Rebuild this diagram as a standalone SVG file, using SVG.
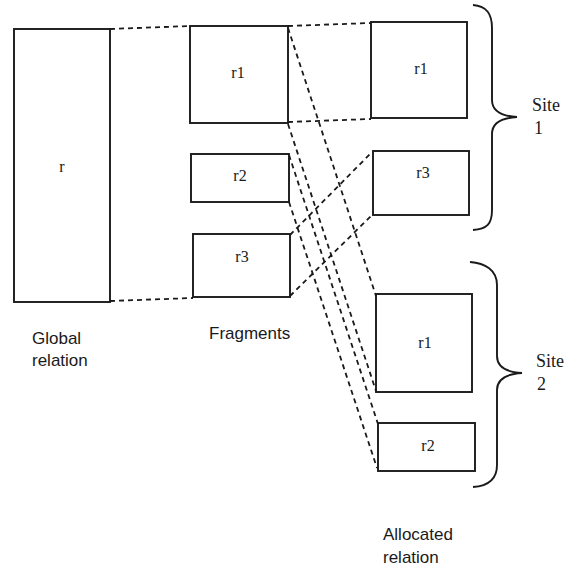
<svg xmlns="http://www.w3.org/2000/svg" width="584" height="574" viewBox="0 0 584 574">
  <style>
    .box { fill: #ffffff; stroke: #1a1a1a; stroke-width: 1.9; }
    .link { fill: none; stroke: #1a1a1a; stroke-width: 1.8; stroke-dasharray: 5 4; }
    .brace { fill: none; stroke: #1a1a1a; stroke-width: 1.9; }
    .rl { font-family: "Liberation Serif", serif; font-size: 16px; fill: #1a1a1a; text-anchor: middle; }
    .cap { font-family: "Liberation Sans", sans-serif; font-size: 17px; fill: #1a1a1a; }
    .site { font-family: "Liberation Serif", serif; font-size: 18px; fill: #1a1a1a; }
  </style>
  <rect width="584" height="574" fill="#ffffff"/>

  <!-- dashed connectors between relation, fragments and allocations -->
  <g id="connectors">
    <line class="link" x1="110" y1="29" x2="190" y2="26"/>
    <line class="link" x1="110" y1="301" x2="193" y2="298"/>
    <line class="link" x1="288" y1="26" x2="371" y2="23"/>
    <line class="link" x1="288" y1="122" x2="371" y2="119"/>
    <line class="link" x1="288" y1="28" x2="376" y2="296"/>
    <line class="link" x1="288" y1="124" x2="376" y2="391"/>
    <line class="link" x1="289" y1="155" x2="378" y2="424"/>
    <line class="link" x1="289" y1="202" x2="377" y2="468"/>
    <line class="link" x1="290" y1="235" x2="372" y2="152"/>
    <line class="link" x1="290" y1="296" x2="373" y2="214"/>
  </g>

  <g id="global-r">
    <rect class="box" x="14" y="29" width="96" height="273"/>
    <text class="rl" x="62" y="172">r</text>
  </g>

  <g id="frag-r1">
    <rect class="box" x="190" y="26" width="98" height="97"/>
    <text class="rl" x="238" y="78">r1</text>
  </g>
  <g id="frag-r2">
    <rect class="box" x="191" y="154" width="98" height="48"/>
    <text class="rl" x="240" y="181">r2</text>
  </g>
  <g id="frag-r3">
    <rect class="box" x="193" y="234" width="97" height="63"/>
    <text class="rl" x="242" y="262">r3</text>
  </g>

  <g id="site1-r1">
    <rect class="box" x="371" y="22" width="96" height="96"/>
    <text class="rl" x="421" y="74">r1</text>
  </g>
  <g id="site1-r3">
    <rect class="box" x="373" y="151" width="96" height="64"/>
    <text class="rl" x="423" y="178">r3</text>
  </g>
  <g id="site2-r1">
    <rect class="box" x="376" y="294" width="96" height="98"/>
    <text class="rl" x="425" y="348">r1</text>
  </g>
  <g id="site2-r2">
    <rect class="box" x="378" y="423" width="97" height="48"/>
    <text class="rl" x="428" y="451">r2</text>
  </g>

  <g id="site1">
    <path class="brace" d="M473,5 C487,6 492,14 492,28 L492,100 C492,110 500,116 517,117 C500,118 492,124 492,134 L492,210 C492,224 487,229 473,230"/>
    <text class="site" x="532" y="111">Site</text>
    <text class="site" x="534" y="134">1</text>
  </g>
  <g id="site2">
    <path class="brace" d="M470,262 C485,263 497,270 497,285 L497,356 C497,366 505,372 522,373 C505,374 497,380 497,390 L497,465 C497,480 488,486 473,487"/>
    <text class="site" x="536" y="367">Site</text>
    <text class="site" x="537" y="390">2</text>
  </g>

  <g id="captions">
    <text class="cap" x="32" y="344">Global</text>
    <text class="cap" x="32" y="366">relation</text>
    <text class="cap" x="209" y="339">Fragments</text>
    <text class="cap" x="383" y="540">Allocated</text>
    <text class="cap" x="383" y="563">relation</text>
  </g>
</svg>
